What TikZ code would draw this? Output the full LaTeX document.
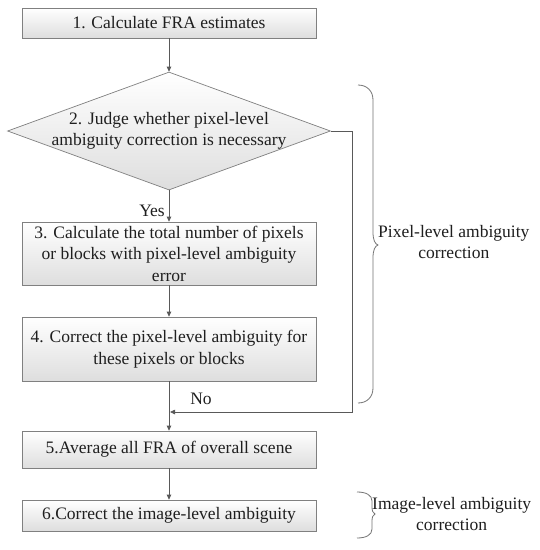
\documentclass[tikz,border=0pt]{standalone}
\usepackage{fontspec}
\setmainfont{Liberation Serif}
\usetikzlibrary{shapes.geometric,arrows.meta}
\tikzset{
  base/.style={font=\fontsize{17.5}{21.5}\selectfont, text=black!88},
  procbox/.style={base, draw=black!50, line width=0.7pt, top color=white, bottom color=black!13, minimum width=294pt, inner sep=0pt, align=center},
  decbox/.style={diamond, draw=black!50, line width=0.7pt, top color=white, bottom color=black!13, minimum width=323pt, minimum height=118pt, aspect=2.74, inner sep=0pt},
  conn/.style={draw=black!65, line width=0.8pt},
  arr/.style={conn, -{Triangle[width=4.5pt,length=5pt]}},
  lbl/.style={base, inner sep=0pt},
  bracestyle/.style={draw=black!55, line width=0.8pt}
}
\begin{document}
\begin{tikzpicture}[x=1pt, y=-1pt]
\fill[white] (0,0) rectangle (540,550);
\useasboundingbox (0,0) rectangle (540,550);

\node[procbox, minimum height=30pt] (b1) at (169,23) {1. Calculate FRA estimates};
\node[decbox] (d2) at (169,131) {};
\node[lbl, align=center] (d2t) at (d2.center) {2. Judge whether pixel-level\\ambiguity correction is necessary};
\node[procbox, minimum height=63pt] (b3) at (169,253.5) {3. Calculate the total number of pixels\\or blocks with pixel-level ambiguity\\error};
\node[procbox, minimum height=64pt] (b4) at (169,349) {4. Correct the pixel-level ambiguity for\\these pixels or blocks};
\node[procbox, minimum height=37pt] (b5) at (169,449.5) {5.Average all FRA of overall scene};
\node[procbox, minimum height=31pt] (b6) at (169,515.5) {6.Correct the image-level ambiguity};

\draw[arr] (b1) -- (d2);
\draw[arr] (d2) -- (b3);
\node[lbl] (yes) at (152,211) {Yes};
\draw[arr] (b3) -- (b4);
\draw[arr] (b4) -- (b5);
\coordinate (n1) at (352,131);
\coordinate (n2) at (352,412);
\coordinate (n3) at (170,412);
\draw[arr] (d2.east) -- (n1) -- (n2) -- (n3);
\node[lbl] (no) at (201,399) {No};
\draw[arr] (b5) -- (b6);

% big brace
\draw[bracestyle] (358,85) .. controls (367,85) and (373,91) .. (373,100)
  -- (373,232) .. controls (373,240) and (375,244) .. (378,245)
  .. controls (375,246) and (373,250) .. (373,258)
  -- (373,388) .. controls (373,397) and (367,403) .. (358,403);
\node[lbl, align=center, anchor=west] (pl) at (378,242) {Pixel-level ambiguity\\correction};

% small brace
\draw[bracestyle] (357,492) .. controls (366,492) and (372,495) .. (372,501)
  -- (372,507) .. controls (372,511) and (373,513) .. (375,514)
  .. controls (373,515) and (372,517) .. (372,521)
  -- (372,529) .. controls (372,535) and (366,538) .. (357,538);
\node[lbl, align=center, anchor=west] (il) at (372,514) {Image-level ambiguity\\correction};
\end{tikzpicture}
\end{document}
